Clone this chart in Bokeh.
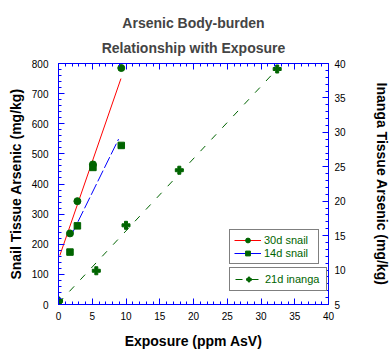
from bokeh.plotting import figure
from bokeh.models import (Range1d, LinearAxis, SingleIntervalTicker, Legend, LegendItem, Title)
from bokeh.embed import file_html
from bokeh.resources import INLINE

# ---- data ----
snail30_x = [0, 1.7, 2.8, 5.1, 9.3]
snail30_y = [10, 236, 343, 465, 785]
snail14_x = [1.7, 2.8, 5.1, 9.3]
snail14_y = [174, 261, 455, 528]
inanga_x = [0, 5.6, 10.0, 17.9, 32.4]
inanga_y = [5.5, 9.9, 16.5, 24.5, 39.2]

# regression lines (endpoints)
fit30_x = [0.2, 9.25]
fit30_y = [163, 750]
fit14_x = [1.9, 8.9]
fit14_y = [230, 549]
fitin_x = [0.0, 32.4]
fitin_y = [5.2, 39.2]

title_lines = ["Arsenic Body-burden", "Relationship with Exposure"]

FONT = "Liberation Sans"
BLUE = "#0000ff"
GREEN = "#006400"

p = figure(width=392, height=351, x_range=Range1d(0, 40), y_range=Range1d(0, 800),
           output_backend="svg", toolbar_location=None, title=None,
           min_border_left=58, min_border_right=63, min_border_top=63, min_border_bottom=47)
p.extra_y_ranges = {"inanga": Range1d(5, 40)}
p.xgrid.visible = False
p.ygrid.visible = False
p.outline_line_color = None
p.background_fill_color = "white"
p.border_fill_color = "white"


def style(ax, interval, show_labels=True):
    ax.ticker = SingleIntervalTicker(interval=interval, num_minor_ticks=5)
    ax.axis_line_color = BLUE
    ax.major_tick_line_color = BLUE
    ax.minor_tick_line_color = BLUE
    ax.major_tick_in = 6
    ax.major_tick_out = 0
    ax.minor_tick_in = 3
    ax.minor_tick_out = 0
    ax.major_label_text_font = FONT
    ax.major_label_text_font_size = "10px" if show_labels else "1px"
    ax.major_label_text_color = "black" if show_labels else None
    ax.axis_label_text_font = FONT
    ax.axis_label_text_font_size = "14px"
    ax.axis_label_text_font_style = "bold"
    ax.axis_label_text_color = "black"


xa = p.xaxis[0]
style(xa, 5)
xa.axis_label = "Exposure (ppm AsV)"
xa.major_label_standoff = 7
xa.axis_label_standoff = 10

ya = p.yaxis[0]
style(ya, 100)
ya.axis_label = "Snail Tissue Arsenic (mg/kg)"
ya.major_label_standoff = 10
ya.axis_label_standoff = 5

ra = LinearAxis(y_range_name="inanga")
style(ra, 5)
ra.axis_label = "Inanga Tissue Arsenic (mg/kg)"
ra.major_label_standoff = 6
ra.axis_label_standoff = 25
p.add_layout(ra, "right")

ta = LinearAxis()
style(ta, 5, show_labels=False)
ta.major_label_standoff = 0
p.add_layout(ta, "above")

p.add_layout(Title(text=title_lines[1], align="center", text_font=FONT, text_font_size="14px",
                   text_font_style="bold", text_line_height=1.15, standoff=15), "above")
p.add_layout(Title(text=title_lines[0], align="center", text_font=FONT, text_font_size="14px",
                   text_font_style="bold", text_line_height=0.95, standoff=0), "above")

# ---- glyphs ----
l30 = p.line(fit30_x, fit30_y, line_color="#ff0000", line_width=1)
l14 = p.line(fit14_x, fit14_y, line_color=BLUE, line_width=1, line_dash="12 3")
lin = p.line(fitin_x, fitin_y, line_color=GREEN, line_width=1, line_dash="7 9",
             y_range_name="inanga")
s30 = p.scatter(snail30_x, snail30_y, marker="circle", size=7, fill_color=GREEN, line_color=GREEN)
s14 = p.scatter(snail14_x, snail14_y, marker="square", size=6.5, fill_color=GREEN, line_color=GREEN)
sin = p.scatter(inanga_x, inanga_y, marker="plus", size=8, fill_color=GREEN, line_color=GREEN,
                y_range_name="inanga")


def mk_legend(items, loc, label_width, padding):
    lg = Legend(items=items, location=loc, border_line_color="black", border_line_width=1,
                background_fill_color="white", background_fill_alpha=1.0, padding=padding,
                spacing=1, glyph_width=27, glyph_height=12, label_height=12, label_standoff=3,
                label_text_font=FONT, label_text_font_size="11px", label_text_color=GREEN,
                label_width=label_width, margin=0)
    return lg


leg1 = mk_legend([LegendItem(label="30d snail", renderers=[l30, s30]),
                  LegendItem(label="14d snail", renderers=[l14, s14])], (171, 40), 50, 4)
leg2 = mk_legend([LegendItem(label="21d inanga", renderers=[lin, sin])], (171, 13), 56, 5)
p.add_layout(leg1, "center")
p.add_layout(leg2, "center")

open("out.html", "w").write(file_html(p, INLINE))
